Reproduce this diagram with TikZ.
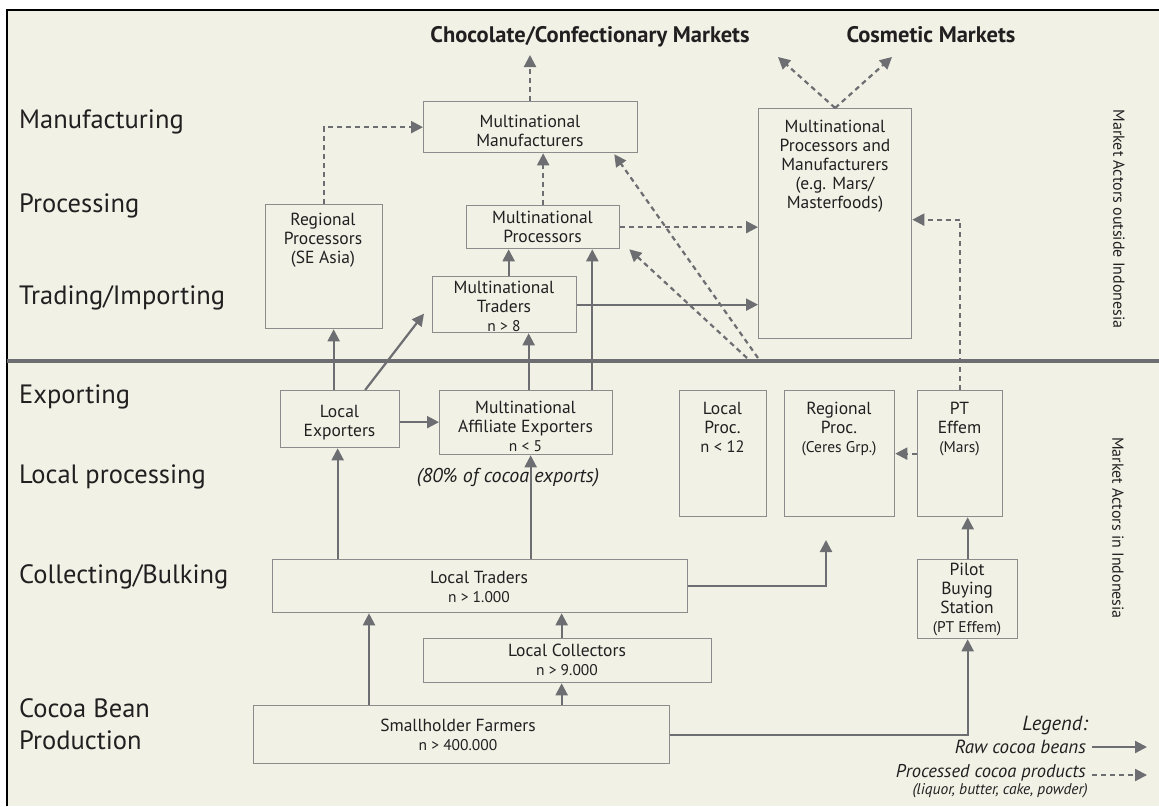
\documentclass[tikz,border=0pt]{standalone}
\usepackage{fontspec}
\setmainfont{PT Sans}
\usetikzlibrary{arrows.meta,calc}
\definecolor{bg}{HTML}{F1F1E6}
\definecolor{ln}{HTML}{6D6E71}
\definecolor{bx}{HTML}{8C8C8C}
\definecolor{tx}{HTML}{231F20}
\newcommand{\sm}{\fontsize{15.5}{19}\selectfont}
\begin{document}
\begin{tikzpicture}[x=1pt,y=-1pt,
  box/.style={draw=bx,line width=1.3pt,inner sep=0pt,anchor=north west},
  bt/.style={text=tx,align=center,font=\fontsize{17.5}{19}\selectfont,inner sep=0pt},
  lab/.style={text=tx,anchor=base west,font=\fontsize{26.5}{30}\selectfont,inner sep=0pt},
  hdr/.style={text=tx,anchor=base,font=\bfseries\fontsize{22.5}{26}\selectfont,inner sep=0pt},
  raw/.style={draw=ln,line width=2.2pt,-{Triangle[length=12pt,width=12pt]}},
  proc/.style={draw=ln,line width=2.2pt,dash pattern=on 5pt off 4pt,-{Triangle[length=12pt,width=12pt]}},
  side/.style={text=tx,rotate=-90,font=\fontsize{16}{18}\selectfont,inner sep=0pt},
  leg/.style={text=tx,anchor=base east,font=\itshape\fontsize{19}{22}\selectfont,inner sep=0pt},
]
\useasboundingbox (0,0) rectangle (1159,806);
\fill[white] (0,0) rectangle (1159,806);
\fill[bg] (7,10) rectangle (1159,806);
\draw[black,line width=2.5pt,line join=miter] (7,806) -- (7,10) -- (1159,10);
\draw[ln,line width=4.5pt] (7,361) -- (1159,361);

% left labels
\node[lab] (l1) at (19,128) {Manufacturing};
\node[lab] (l2) at (19,212) {Processing};
\node[lab] (l3) at (19,304) {Trading/Importing};
\node[lab] (l4) at (19,403) {Exporting};
\node[lab] (l5) at (19,483) {Local processing};
\node[lab] (l6) at (19,583) {Collecting/Bulking};
\node[lab] (l7) at (19,717) {Cocoa Bean};
\node[lab] (l8) at (19,749) {Production};

% headers
\node[hdr] (choc) at (590,42) {Chocolate/Confectionary Markets};
\node[hdr] (cosm) at (931,42) {Cosmetic Markets};

% side labels
\node[side] (sideA) at (1119,219) {Market Actors outside Indonesia};
\node[side] (sideB) at (1118,528) {Market Actors in Indonesia};

% boxes
\node[box,minimum width=214pt,minimum height=51pt] (mm) at (423,101) {};
\node[box,minimum width=117pt,minimum height=124pt] (rp) at (265,204) {};
\node[box,minimum width=153pt,minimum height=43pt] (mp) at (466,205) {};
\node[box,minimum width=144pt,minimum height=56pt] (mt) at (432,276) {};
\node[box,minimum width=153pt,minimum height=230pt] (mpm) at (758,108) {};
\node[box,minimum width=119pt,minimum height=57pt] (le) at (280,390) {};
\node[box,minimum width=173pt,minimum height=64pt] (mae) at (439,390) {};
\node[box,minimum width=87pt,minimum height=126pt] (lp) at (679,390) {};
\node[box,minimum width=110pt,minimum height=126pt] (rgp) at (784,390) {};
\node[box,minimum width=85pt,minimum height=126pt] (pte) at (917,390) {};
\node[box,minimum width=415pt,minimum height=53pt] (lt) at (272,559) {};
\node[box,minimum width=100pt,minimum height=79pt] (pbs) at (917,559) {};
\node[box,minimum width=288pt,minimum height=44pt] (lc) at (423,638) {};
\node[box,minimum width=416pt,minimum height=58pt] (sf) at (253,705) {};

% box texts
\node[bt] (mmT) at (530,130.5) {Multinational\\Manufacturers};
\node[bt] (rpT) at (323,240.5) {Regional\\Processors\\(SE Asia)};
\node[bt] (mpT) at (542.5,226.5) {Multinational\\Processors};
\node[bt] (mtT) at (504,306) {Multinational\\Traders\\\sm n > 8};
\node[bt] (mpmT) at (835,166.5) {Multinational\\Processors and\\Manufacturers\\(e.g. Mars/\\Masterfoods)};
\node[bt] (leT) at (339.5,422.5) {Local\\Exporters};
\node[bt] (maeT) at (525.5,426.5) {Multinational\\Affiliate Exporters\\\sm n < 5};
\node[bt] (lpT) at (722.5,427.5) {Local\\Proc.\\\fontsize{16.5}{19}\selectfont n < 12};
\node[bt] (rgpT) at (839,429) {Regional\\Proc.\\\sm (Ceres Grp.)};
\node[bt] (pteT) at (959.5,429) {PT\\Effem\\\sm (Mars)};
\node[bt] (ltT) at (479,587) {Local Traders\\\sm n > 1.000};
\node[bt] (lcT) at (567,660) {Local Collectors\\\sm n > 9.000};
\node[bt] (sfT) at (458,734.5) {Smallholder Farmers\\\sm n > 400.000};
\node[bt] (pbsT) at (967,600) {Pilot\\Buying\\Station\\\sm (PT Effem)};
\node[bt,font=\itshape\fontsize{20}{22}\selectfont] (pct) at (508,478) {(80\% of cocoa exports)};

% coordinates
\coordinate (chocA) at (530,55);
\coordinate (cosL) at (778,57);
\coordinate (cosR) at (892,57);
\coordinate (dA) at (758,358);
\coordinate (dB) at (747,358);
\coordinate (rgpIn) at (826,540);
\coordinate (maeR) at ($(mae.north east)+(-21,0)$);
\coordinate (sfL) at ($(sf.north west)+(116,0)$);
\coordinate (leD) at ($(le.north)+(25,0)$);
\coordinate (mtD) at ($(mt.west)+(-8,9)$);
\coordinate (mmD) at ($(mm.south east)+(-24,1)$);
\coordinate (mpD) at ($(mp.south east)+(9,0)$);
\coordinate (mpmE) at ($(mpm.east)+(0,-4)$);

% processed (dashed) connectors
\draw[proc] (rp.north) |- (mm.west);
\draw[proc] (mm.north -| chocA) -- (chocA);
\draw[proc] (mp.north) -- (mp.north |- mm.south);
\draw[proc] (mp.east) -- (mp.east -| mpm.west);
\draw[proc] (dA) -- (mmD);
\draw[proc] (dB) -- (mpD);
\draw[proc] (mpm.north) -- (cosL);
\draw[proc] (mpm.north) -- (cosR);
\draw[proc] (pte.north) |- (mpmE);
\draw[proc] (pte.west) -- (pte.west -| rgp.east);

% raw (solid) connectors
\draw[raw] ([xshift=4pt]mt.north) -- ([xshift=4pt]mt.north |- mp.south);
\draw[raw] (maeR) -- (maeR |- mp.south);
\draw[raw] ([xshift=2.5pt]mae.north) -- ([xshift=2.5pt]mae.north |- mt.south);
\draw[raw] (leD) -- (mtD);
\draw[raw] ([xshift=-6.5pt]le.north) -- ([xshift=-6.5pt]le.north |- rp.south);
\draw[raw] ([yshift=-3pt]le.east) -- ([yshift=-3pt]le.east -| mae.west);
\draw[raw] (mt.east) -- (mt.east -| mpm.west);
\draw[raw] (pbs.north) -- (pbs.north |- pte.south);
\draw[raw] ([xshift=-2.5pt]le.south |- lt.north) -- ([xshift=-2.5pt]le.south);
\draw[raw] ([xshift=4.5pt]mae.south |- lt.north) -- ([xshift=4.5pt]mae.south);
\draw[raw] (lt.east) -| (rgpIn);
\draw[raw] ([xshift=-6pt]lc.north) -- ([xshift=-6pt]lc.north |- lt.south);
\draw[raw] ([xshift=-6pt]lc.south |- sf.north) -- ([xshift=-6pt]lc.south);
\draw[raw] (sfL) -- (sfL |- lt.south);
\draw[raw] (sf.east) -| (pbs.south);

% legend
\node[leg,font=\itshape\fontsize{20.5}{23}\selectfont] (lgT) at (1088,730) {Legend:};
\node[leg] (lgR) at (1086,753) {Raw cocoa beans};
\node[leg,font=\itshape\fontsize{18.5}{22}\selectfont] (lgP) at (1086,777) {Processed cocoa products};
\node[leg,font=\itshape\fontsize{15.5}{18}\selectfont] (lgS) at (1088,794) {(liquor, butter, cake, powder)};
\coordinate (lgA1) at (1092,747);
\coordinate (lgA2) at (1147,747);
\coordinate (lgB1) at (1092,775);
\coordinate (lgB2) at (1147,775);
\draw[raw] (lgA1) -- (lgA2);
\draw[proc] (lgB1) -- (lgB2);
\end{tikzpicture}
\end{document}
